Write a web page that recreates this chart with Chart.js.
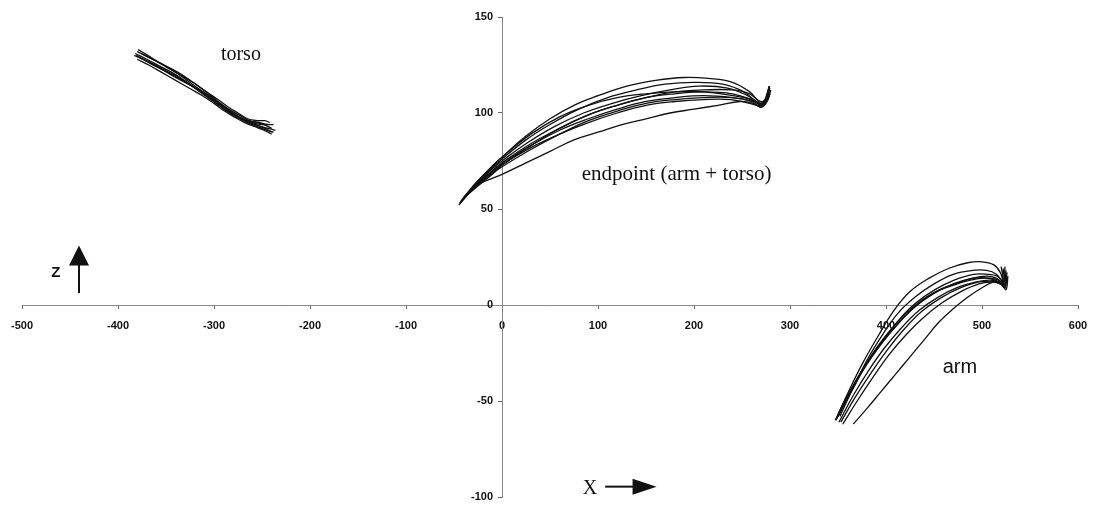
<!DOCTYPE html>
<html>
<head>
<meta charset="utf-8">
<script src="https://cdn.jsdelivr.net/npm/chart.js@4"></script>
<style>
  html, body { margin: 0; padding: 0; background: #fff; }
  #wrap { width: 1094px; height: 508px; }
</style>
</head>
<body>
<div id="wrap"><canvas id="traj"></canvas></div>
<script>
// axis ranges and tick labels
const xTicks = [-500, -400, -300, -200, -100, 0, 100, 200, 300, 400, 500, 600];
const yTicks = [-100, -50, 0, 50, 100, 150];

// torso trajectories, [x, z] in mm
const torso1 = [[-382,131],[-370,128],[-355,124],[-340,120],[-325,115],[-310,110],[-298,106],[-287,102],[-276,98],[-265,95],[-255,93],[-245,91],[-238,90]];
const torso2 = [[-380,132],[-368,129],[-352,125],[-337,121],[-322,116],[-308,111],[-296,107],[-285,103],[-275,100],[-265,97],[-255,96],[-247,96],[-242,95]];
const torso3 = [[-381,130],[-367,126],[-352,122],[-338,118],[-323,114],[-309,109],[-297,105],[-286,101],[-276,98],[-266,96],[-256,95],[-248,94],[-240,92]];
const torso4 = [[-378,129],[-365,126],[-350,122],[-335,118],[-320,113],[-306,108],[-295,104],[-284,100],[-273,97],[-262,95],[-252,93],[-243,92],[-236,91]];
const torso5 = [[-383,130],[-370,127],[-355,123],[-340,119],[-326,115],[-312,111],[-300,107],[-289,103],[-278,99],[-267,96],[-257,94],[-247,92],[-239,90]];
const torso6 = [[-376,131],[-364,128],[-350,124],[-336,120],[-322,116],[-308,111],[-296,106],[-285,102],[-274,99],[-263,96],[-253,95],[-244,94],[-238,94]];
const torso7 = [[-380,128],[-368,125],[-354,121],[-340,117],[-326,113],[-312,109],[-300,105],[-289,101],[-279,98],[-268,95],[-258,93],[-248,91],[-240,89]];
const torso8 = [[-379,133],[-369,130],[-356,126],[-342,122],[-328,117],[-314,112],[-302,108],[-291,104],[-280,100],[-270,97],[-260,95],[-251,94],[-244,94]];

// endpoint (arm + torso) trajectories
const endpoint1 = [[-44,53],[-30,62],[-15,70],[0,77],[25,88],[50,97],[75,104],[100,109],[130,114],[160,117],[190,118.5],[215,118],[240,116],[258,111],[268,106],[274,107],[278,113]];
const endpoint2 = [[-45,52],[-30,61],[-15,69],[0,76],[25,86],[50,94],[80,102],[110,108],[140,112],[170,115],[200,116],[230,115],[252,111],[265,106],[272,105],[276,110],[279,114]];
const endpoint3 = [[-43,54],[-28,63],[-12,71],[0,77],[30,89],[60,98],[90,104],[120,108],[150,110],[180,111],[210,111],[240,109],[260,107],[270,104],[275,106],[278,112]];
const endpoint4 = [[-44,53],[-28,62],[-12,69],[0,74],[30,84],[60,92],[90,99],[120,104],[150,108],[180,110],[210,111],[240,110],[260,107],[270,105],[276,108],[278,113]];
const endpoint5 = [[-42,54],[-27,62],[-12,69],[0,74],[30,83],[60,91],[90,97],[120,102],[150,106],[180,108],[210,109],[240,108],[262,106],[272,104],[277,107],[280,112]];
const endpoint6 = [[-40,56],[-25,64],[-10,71],[0,75],[25,84],[55,93],[85,100],[115,105],[145,109],[175,112],[205,114],[235,113],[256,109],[268,105],[275,106],[279,111]];
const endpoint7 = [[-41,55],[-26,62],[-12,68],[0,72],[30,81],[60,89],[90,96],[120,101],[150,105],[180,107],[210,108],[240,108],[260,106],[270,103],[276,106],[279,110]];
const endpoint8 = [[-38,57],[-22,64],[-8,70],[0,73],[30,83],[60,92],[90,99],[120,104],[150,108],[180,111],[210,112],[240,112],[258,110],[269,106],[275,107],[278,114]];
const endpoint9 = [[-35,58],[-20,64],[-8,69],[0,73],[30,82],[60,89],[90,95],[120,100],[150,104],[180,106],[210,107],[238,107],[258,105],[270,104],[276,108],[279,113]];
const endpoint10 = [[-30,61],[-20,64],[-10,66],[0,68],[25,74],[50,80],[75,86],[100,90],[125,94],[150,97],[175,100],[200,102],[225,104],[248,106],[262,105],[270,103],[276,107],[278,112]];

// arm trajectories
const arm1 = [[350,-57],[362,-44],[376,-30],[392,-16],[408,-3],[425,7],[445,14],[465,19],[485,22],[500,22.5],[512,21],[519,17],[522,12]];
const arm2 = [[352,-58],[366,-43],[381,-28],[397,-15],[413,-4],[430,4],[450,11],[470,16],[490,18],[505,18],[515,16],[521,12],[523,9]];
const arm3 = [[348,-60],[362,-46],[378,-32],[395,-20],[412,-10],[430,-1],[450,6],[470,11],[490,14],[505,15],[515,14],[522,11],[524,20]];
const arm4 = [[349,-59],[364,-45],[380,-31],[397,-19],[414,-9],[432,0],[452,7],[472,11],[492,14],[507,14],[517,13],[523,10],[525,18]];
const arm5 = [[351,-61],[366,-47],[382,-34],[399,-22],[416,-12],[434,-3],[454,4],[474,9],[494,12],[508,13],[518,12],[524,9],[526,17]];
const arm6 = [[353,-61],[368,-48],[385,-35],[402,-23],[420,-12],[438,-3],[458,4],[478,9],[497,12],[510,12],[519,11],[524,9],[522,19]];
const arm7 = [[347,-60],[360,-47],[375,-34],[392,-21],[410,-10],[428,-1],[448,6],[468,10],[488,13],[503,14],[514,13],[520,11],[522,18]];
const arm8 = [[355,-62],[370,-50],[386,-38],[403,-26],[420,-16],[438,-7],[458,1],[478,7],[497,11],[511,12],[520,11],[525,8],[527,15]];
const arm9 = [[350,-58],[364,-44],[379,-31],[396,-19],[413,-8],[431,1],[451,8],[471,13],[491,16],[506,16],[516,15],[522,12],[520,20]];
const arm10 = [[366,-62],[380,-54],[395,-45],[410,-36],[425,-27],[440,-18],[455,-9],[470,-2],[485,4],[500,9],[512,12],[520,12],[523,10]];

const traces = [
  torso1, torso2, torso3, torso4, torso5, torso6, torso7, torso8,
  endpoint1, endpoint2, endpoint3, endpoint4, endpoint5, endpoint6, endpoint7, endpoint8, endpoint9, endpoint10,
  arm1, arm2, arm3, arm4, arm5, arm6, arm7, arm8, arm9, arm10
];

const datasets = traces.map(t => ({
  data: t.map(p => ({ x: p[0], y: p[1] })),
  showLine: true,
  borderColor: '#111',
  borderWidth: 1.3,
  pointRadius: 0,
  tension: 0.4,
  fill: false
}));

// labels and direction arrows, anchored in data units
const labels = [
  { text: 'torso', x: -272, y: 127.8, font: '20px "Liberation Serif", "Times New Roman", serif', align: 'center' },
  { text: 'endpoint (arm + torso)', x: 83, y: 64.9, font: '21px "Liberation Serif", "Times New Roman", serif', align: 'left' },
  { text: 'arm', x: 459, y: -35.3, font: '20px "Liberation Sans", Arial, sans-serif', align: 'left' },
  { text: 'Z', x: -469.5, y: 14.6, font: 'bold 15px "Liberation Sans", Arial, sans-serif', align: 'left' },
  { text: 'X', x: 84, y: -98.3, font: '20px "Liberation Serif", "Times New Roman", serif', align: 'left' }
];

const tickFont = { family: '"Liberation Sans", Arial, sans-serif', size: 11, weight: 'bold' };

const annotate = {
  id: 'annotate',
  afterDraw(chart) {
    const c = chart.ctx, xs = chart.scales.x, ys = chart.scales.y;
    c.save();
    c.fillStyle = '#111';

    // y tick labels sit left of the centred axis
    const axisX = xs.getPixelForValue(0);
    c.font = 'bold 11px "Liberation Sans", Arial, sans-serif';
    c.textAlign = 'right';
    c.textBaseline = 'middle';
    yTicks.forEach(v => c.fillText(String(v), axisX - 9, ys.getPixelForValue(v)));

    c.textBaseline = 'alphabetic';
    labels.forEach(l => {
      c.font = l.font;
      c.textAlign = l.align;
      c.fillText(l.text, xs.getPixelForValue(l.x), ys.getPixelForValue(l.y));
    });

    // Z arrow (up)
    const zx = xs.getPixelForValue(-440.6);
    const zBot = ys.getPixelForValue(6.2), zTip = ys.getPixelForValue(31);
    c.strokeStyle = '#111';
    c.lineWidth = 2;
    c.beginPath();
    c.moveTo(zx, zBot);
    c.lineTo(zx, zTip + 18);
    c.stroke();
    c.beginPath();
    c.moveTo(zx, zTip);
    c.lineTo(zx - 10, zTip + 20);
    c.lineTo(zx + 10, zTip + 20);
    c.closePath();
    c.fill();

    // X arrow (right)
    const ay = ys.getPixelForValue(-94.6);
    const aL = xs.getPixelForValue(107.5), aTip = xs.getPixelForValue(161);
    c.beginPath();
    c.moveTo(aL, ay);
    c.lineTo(aTip - 20, ay);
    c.stroke();
    c.beginPath();
    c.moveTo(aTip, ay);
    c.lineTo(aTip - 24, ay - 8);
    c.lineTo(aTip - 24, ay + 8);
    c.closePath();
    c.fill();
    c.restore();
  }
};

new Chart(document.getElementById('traj'), {
  type: 'scatter',
  data: { datasets: datasets },
  options: {
    responsive: true,
    maintainAspectRatio: false,
    animation: false,
    layout: { padding: { left: 22, right: 16, top: 17, bottom: 11 } },
    plugins: { legend: { display: false }, tooltip: { enabled: false } },
    scales: {
      x: {
        type: 'linear',
        min: -500,
        max: 600,
        position: { y: 0 },
        afterBuildTicks: s => { s.ticks = xTicks.map(v => ({ value: v })); },
        // end labels may overhang; the layout padding already leaves room
        afterFit: s => { s.paddingLeft = 0; s.paddingRight = 0; },
        ticks: { color: '#111', font: tickFont, padding: 11 },
        grid: { drawOnChartArea: false, drawTicks: true, tickLength: 3, color: '#666' },
        border: { display: true, color: '#888', width: 1 }
      },
      y: {
        type: 'linear',
        min: -100,
        max: 150,
        position: { x: 0 },
        afterBuildTicks: s => { s.ticks = yTicks.map(v => ({ value: v })); },
        afterFit: s => { s.paddingTop = 0; s.paddingBottom = 0; },
        ticks: { display: false },
        grid: { drawOnChartArea: false, drawTicks: true, tickLength: 4, color: '#666' },
        border: { display: true, color: '#888', width: 1 }
      }
    }
  },
  plugins: [annotate]
});
</script>
</body>
</html>
